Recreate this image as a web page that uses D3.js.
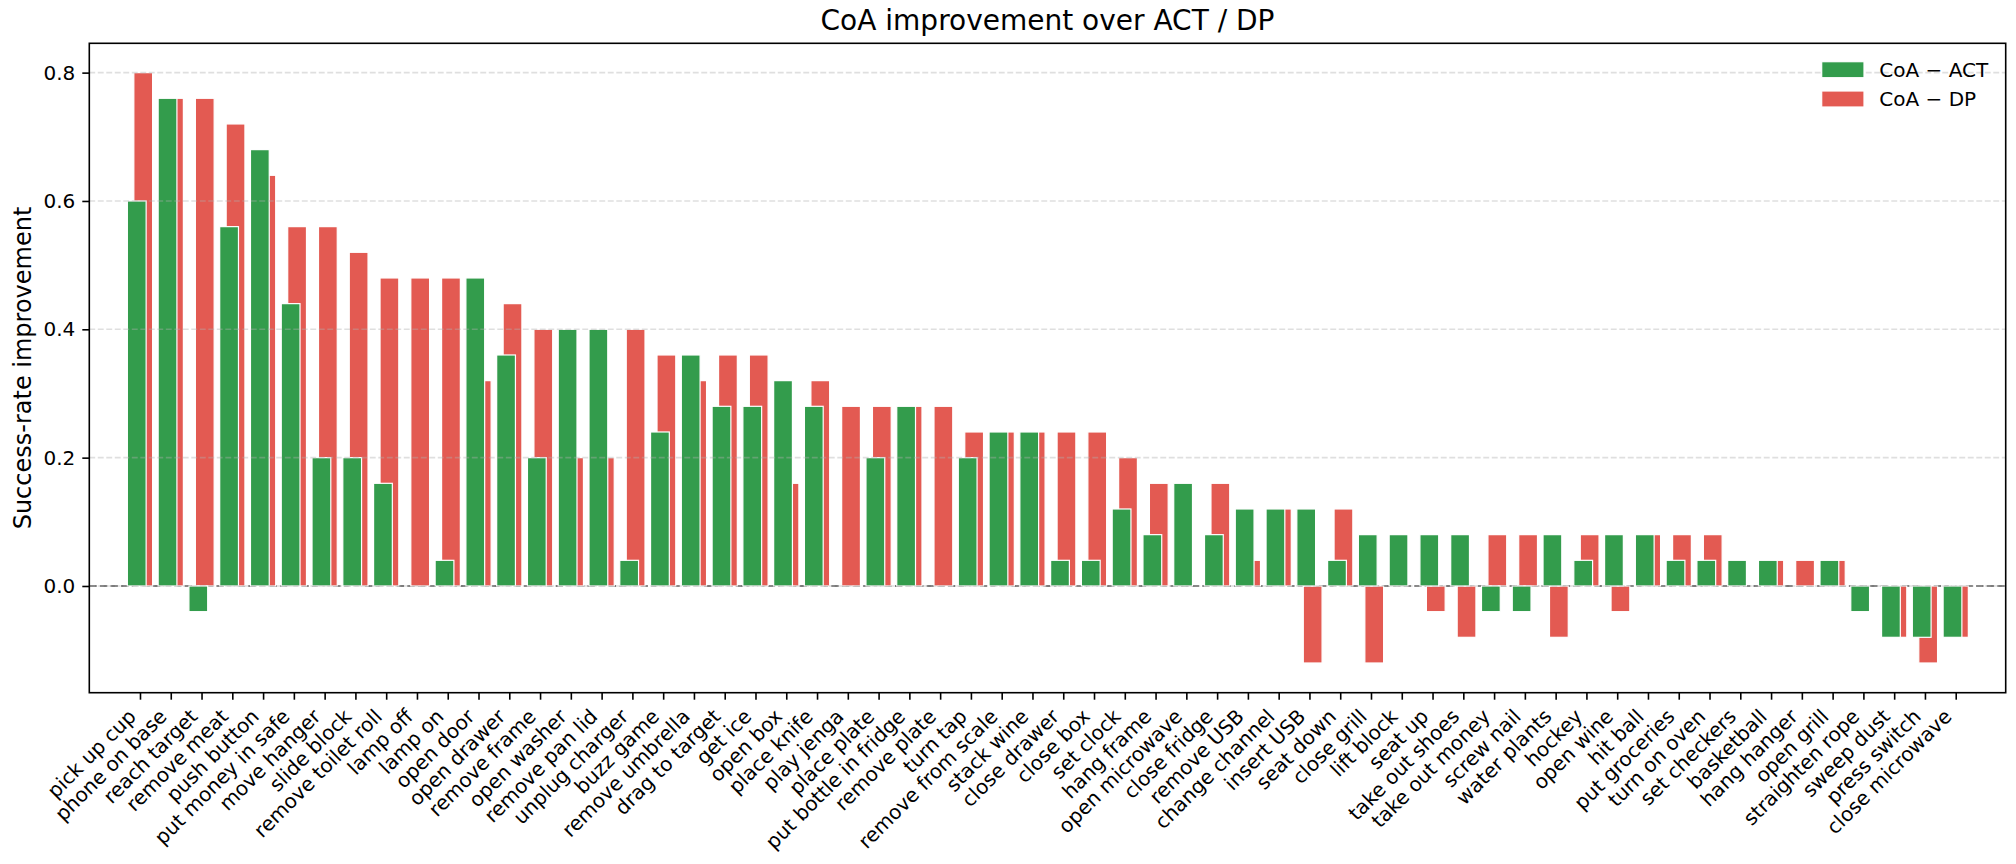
<!DOCTYPE html>
<html>
<head>
<meta charset="utf-8">
<script src="https://cdn.jsdelivr.net/npm/d3@7"></script>
<style>
  body { margin: 0; background: #fff; }
  svg { display: block; font-family: "DejaVu Sans", sans-serif; }
</style>
</head>
<body>
<svg id="chart"></svg>
<script>
// tasks, sorted as in the figure
const tasks = ["pick up cup", "phone on base", "reach target", "remove meat", "push button",
  "put money in safe", "move hanger", "slide block", "remove toilet roll", "lamp off",
  "lamp on", "open door", "open drawer", "remove frame", "open washer",
  "remove pan lid", "unplug charger", "buzz game", "remove umbrella", "drag to target",
  "get ice", "open box", "place knife", "play jenga", "place plate",
  "put bottle in fridge", "remove plate", "turn tap", "remove from scale", "stack wine",
  "close drawer", "close box", "set clock", "hang frame", "open microwave",
  "close fridge", "remove USB", "change channel", "insert USB", "seat down",
  "close grill", "lift block", "seat up", "take out shoes", "take out money",
  "screw nail", "water plants", "hockey", "open wine", "hit ball",
  "put groceries", "turn on oven", "set checkers", "basketball", "hang hanger",
  "open grill", "straighten rope", "sweep dust", "press switch", "close microwave"];

// CoA - ACT
const gainAct = [0.60, 0.76, -0.04, 0.56, 0.68, 0.44, 0.20, 0.20, 0.16, 0.00,
  0.04, 0.48, 0.36, 0.20, 0.40, 0.40, 0.04, 0.24, 0.36, 0.28,
  0.28, 0.32, 0.28, 0.00, 0.20, 0.28, 0.00, 0.20, 0.24, 0.24,
  0.04, 0.04, 0.12, 0.08, 0.16, 0.08, 0.12, 0.12, 0.12, 0.04,
  0.08, 0.08, 0.08, 0.08, -0.04, -0.04, 0.08, 0.04, 0.08, 0.08,
  0.04, 0.04, 0.04, 0.04, 0.00, 0.04, -0.04, -0.08, -0.08, -0.08];

// CoA - DP
const gainDp = [0.80, 0.76, 0.76, 0.72, 0.64, 0.56, 0.56, 0.52, 0.48, 0.48,
  0.48, 0.32, 0.44, 0.40, 0.20, 0.20, 0.40, 0.36, 0.32, 0.36,
  0.36, 0.16, 0.32, 0.28, 0.28, 0.28, 0.28, 0.24, 0.24, 0.24,
  0.24, 0.24, 0.20, 0.16, 0.00, 0.16, 0.04, 0.12, -0.12, 0.12,
  -0.12, 0.00, -0.04, -0.08, 0.08, 0.08, -0.08, 0.08, -0.04, 0.08,
  0.08, 0.08, 0.00, 0.04, 0.04, 0.04, 0.00, -0.08, -0.12, -0.08];

const yTicks = [0.0, 0.2, 0.4, 0.6, 0.8];
const seriesNames = ["CoA \u2212 ACT", "CoA \u2212 DP"];

const W = 2016, H = 864;
const plotL = 89.3, plotR = 2005.7, plotT = 43.3, plotB = 692.7;
const green = "#339c4c", red = "#e35a52";
const barW = 0.61, shift = 0.105;

const svg = d3.select("#chart").attr("width", W).attr("height", H);

const x = d3.scaleLinear().domain([-1.647, 60.624]).range([plotL, plotR]);
const y = d3.scaleLinear().domain([-0.1663, 0.8457]).range([plotB, plotT]);

// zero line, below the bars
svg.append("line")
  .attr("x1", plotL).attr("x2", plotR)
  .attr("y1", y(0)).attr("y2", y(0))
  .attr("stroke", "#333").attr("stroke-width", 1.6)
  .attr("stroke-dasharray", "7.4,3.2").attr("opacity", 0.85);

function drawBars(vals, dx, color) {
  svg.append("g").selectAll("rect")
    .data(vals)
    .join("rect")
    .attr("x", (d, i) => x(i + dx - barW / 2))
    .attr("width", x(barW) - x(0))
    .attr("y", d => y(Math.max(0, d)))
    .attr("height", d => Math.abs(y(d) - y(0)))
    .attr("fill", color)
    .attr("stroke", "#fff").attr("stroke-width", 1.2);
}
drawBars(gainDp, shift, red);
drawBars(gainAct, -shift, green);

// y grid sits above the bars
svg.append("g").selectAll("line")
  .data(yTicks)
  .join("line")
  .attr("x1", plotL).attr("x2", plotR)
  .attr("y1", d => y(d)).attr("y2", d => y(d))
  .attr("stroke", "#b0b0b0").attr("stroke-opacity", 0.4)
  .attr("stroke-width", 1.6).attr("stroke-dasharray", "5.9,2.6");

// frame
svg.append("rect")
  .attr("x", plotL).attr("y", plotT)
  .attr("width", plotR - plotL).attr("height", plotB - plotT)
  .attr("fill", "none").attr("stroke", "#000").attr("stroke-width", 1.6);

// y axis
const yAxis = svg.append("g")
  .attr("transform", `translate(${plotL},0)`)
  .call(d3.axisLeft(y).tickValues(yTicks).tickFormat(d3.format(".1f")).tickSize(7).tickPadding(7));
yAxis.select(".domain").remove();
yAxis.selectAll(".tick line").attr("stroke", "#000").attr("stroke-width", 1.6);
yAxis.selectAll(".tick text").attr("font-size", 20).attr("fill", "#000")
  .attr("font-family", "DejaVu Sans");

// x axis
const xAxis = svg.append("g")
  .attr("transform", `translate(0,${plotB})`)
  .call(d3.axisBottom(x).tickValues(d3.range(tasks.length)).tickFormat(i => tasks[i]).tickSize(7));
xAxis.select(".domain").remove();
xAxis.selectAll(".tick line").attr("stroke", "#000").attr("stroke-width", 1.6);
xAxis.selectAll(".tick text")
  .attr("font-size", 20).attr("fill", "#000").attr("font-family", "DejaVu Sans")
  .attr("text-anchor", "end")
  .attr("dy", null).attr("y", null).attr("x", null)
  .attr("transform", "translate(-3.3,25) rotate(-45)");

// title and y label
svg.append("text")
  .attr("x", (plotL + plotR) / 2).attr("y", 30)
  .attr("text-anchor", "middle").attr("font-size", 28)
  .text("CoA improvement over ACT / DP");

svg.append("text")
  .attr("transform", `translate(31,${(plotT + plotB) / 2}) rotate(-90)`)
  .attr("text-anchor", "middle").attr("font-size", 24)
  .text("Success-rate improvement");

// legend
const legend = svg.append("g").attr("transform", "translate(1821.7,61.7)");
[green, red].forEach((c, k) => {
  const row = legend.append("g").attr("transform", `translate(0,${k * 29.3})`);
  row.append("rect").attr("width", 42.3).attr("height", 16)
    .attr("fill", c).attr("stroke", "#fff").attr("stroke-width", 1.2);
  row.append("text").attr("x", 57.6).attr("y", 8).attr("dy", "0.35em")
    .attr("font-size", 20).text(seriesNames[k]);
});
</script>
</body>
</html>
